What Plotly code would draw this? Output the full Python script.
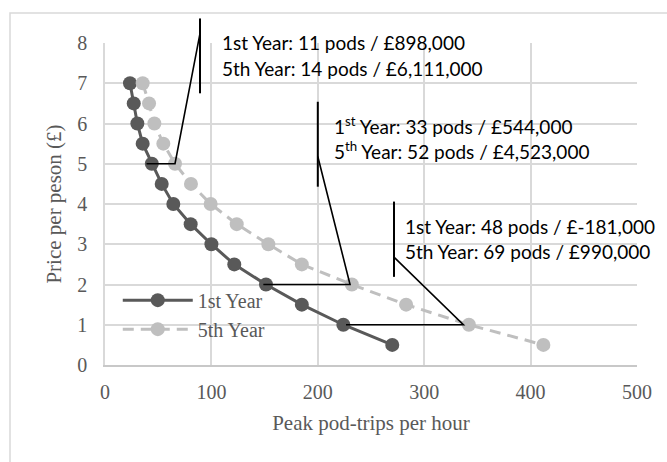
import plotly.graph_objects as go

# ---- data ----
price = [7, 6.5, 6, 5.5, 5, 4.5, 4, 3.5, 3, 2.5, 2, 1.5, 1, 0.5]
trips_year1 = [23.5, 27, 30.4, 35.4, 44, 53.3, 64.2, 80.5, 100, 121.5, 151.3, 185, 224, 270]
trips_year5 = [35.4, 41.4, 46.4, 54.8, 65.8, 80.8, 99.3, 123.8, 153.5, 185, 232, 283, 342, 412]

series_names = ["1st Year", "5th Year"]
x_title = "Peak pod-trips per hour"
y_title = "Price per peson (£)"

callout_text = [
    ["1st Year: 11 pods / £898,000", "5th Year: 14 pods / £6,111,000"],
    ["1<sup>st</sup> Year: 33 pods / £544,000", "5<sup>th</sup> Year: 52 pods / £4,523,000"],
    ["1st Year: 48 pods / £-181,000", "5th Year: 69 pods / £990,000"],
]

# callout geometry (data units)
callout_text_pos = [(108, 8.01, 7.37), (213.3, 5.96, 5.34), (280, 3.44, 2.81)]
callout_bar = [(89.3, 8.61, 6.75), (200, 6.54, 4.43), (271.6, 4.06, 2.19)]
callout_path = [
    [(39, 5.0), (65.8, 5.0), (89.3, 8.24)],
    [(148.8, 2.0), (230.3, 2.0), (200, 5.18)],
    [(226.5, 1.0), (336.8, 1.0), (271.6, 2.68)],
]

XMAX, YMAX = 500, 8
DARK = "#595959"
LIGHT = "#BFBFBF"
GRID = "#D9D9D9"
SERIF = "Liberation Serif, Times New Roman, serif"
SANS = "Lato, Carlito, Calibri, sans-serif"

fig = go.Figure()
fig.add_trace(go.Scatter(
    x=trips_year1, y=price, mode="lines+markers", name=series_names[0],
    line=dict(color=DARK, width=3), marker=dict(color=DARK, size=14)))
fig.add_trace(go.Scatter(
    x=trips_year5, y=price, mode="lines+markers", name=series_names[1],
    line=dict(color=LIGHT, width=3, dash="11px,7px"), marker=dict(color=LIGHT, size=14)))

shapes = []
# outer chart border (partially off-page)
L, R, T, B = 105, 30, 43, 97
W, H = 667, 462
pw, ph = W - L - R, H - T - B
shapes.append(dict(type="rect", xref="paper", yref="paper",
                   x0=(10 - L) / pw, x1=(W + 40 - L) / pw,
                   y0=-(H + 40 - (H - B)) / ph, y1=((H - B) - 13) / ph,
                   line=dict(color=GRID, width=1.5), fillcolor="rgba(0,0,0,0)", layer="below"))

for (bx, by0, by1), pts in zip(callout_bar, callout_path):
    shapes.append(dict(type="line", xref="paper", yref="paper",
                       x0=bx / XMAX, x1=bx / XMAX, y0=by0 / YMAX, y1=by1 / YMAX,
                       line=dict(color="black", width=2)))
    path = "M " + " L ".join(f"{px / XMAX},{py / YMAX}" for px, py in pts)
    shapes.append(dict(type="path", xref="paper", yref="paper", path=path,
                       line=dict(color="black", width=1.6)))

annotations = []
for (tx, ty1, ty2), lines in zip(callout_text_pos, callout_text):
    for ty, txt in zip((ty1, ty2), lines):
        annotations.append(dict(x=tx / XMAX, y=ty / YMAX, xref="paper", yref="paper", text=txt,
                                showarrow=False, xanchor="left", yanchor="middle",
                                font=dict(family=SANS, size=19, color="black")))

fig.update_layout(
    width=W, height=H, autosize=False,
    margin=dict(l=L, r=R, t=T, b=B, pad=0),
    paper_bgcolor="white", plot_bgcolor="white",
    shapes=shapes, annotations=annotations,
    showlegend=True,
    legend=dict(x=0.024, y=0.262, xanchor="left", yanchor="top",
                bgcolor="rgba(0,0,0,0)", itemwidth=70,
                font=dict(family=SERIF, size=20, color=DARK),
                tracegroupgap=0),
    xaxis=dict(range=[0, XMAX], dtick=100, showgrid=True, gridcolor=GRID, gridwidth=1.5,
               zeroline=False, showline=True, linecolor="#C8C8C8", linewidth=1.5,
               ticks="outside", ticklen=8, tickcolor="rgba(0,0,0,0)",
               tickfont=dict(family=SERIF, size=20, color=DARK),
               title=dict(text=x_title, font=dict(family=SERIF, size=21, color=DARK), standoff=14)),
    yaxis=dict(range=[0, YMAX], dtick=1, showgrid=True, gridcolor=GRID, gridwidth=1.5,
               zeroline=False, showline=True, linecolor=GRID, linewidth=1.5,
               ticks="outside", ticklen=12, tickcolor="rgba(0,0,0,0)",
               tickfont=dict(family=SERIF, size=20, color=DARK),
               title=dict(text=y_title, font=dict(family=SERIF, size=21, color=DARK), standoff=10)),
)

fig.write_html("out.html")
